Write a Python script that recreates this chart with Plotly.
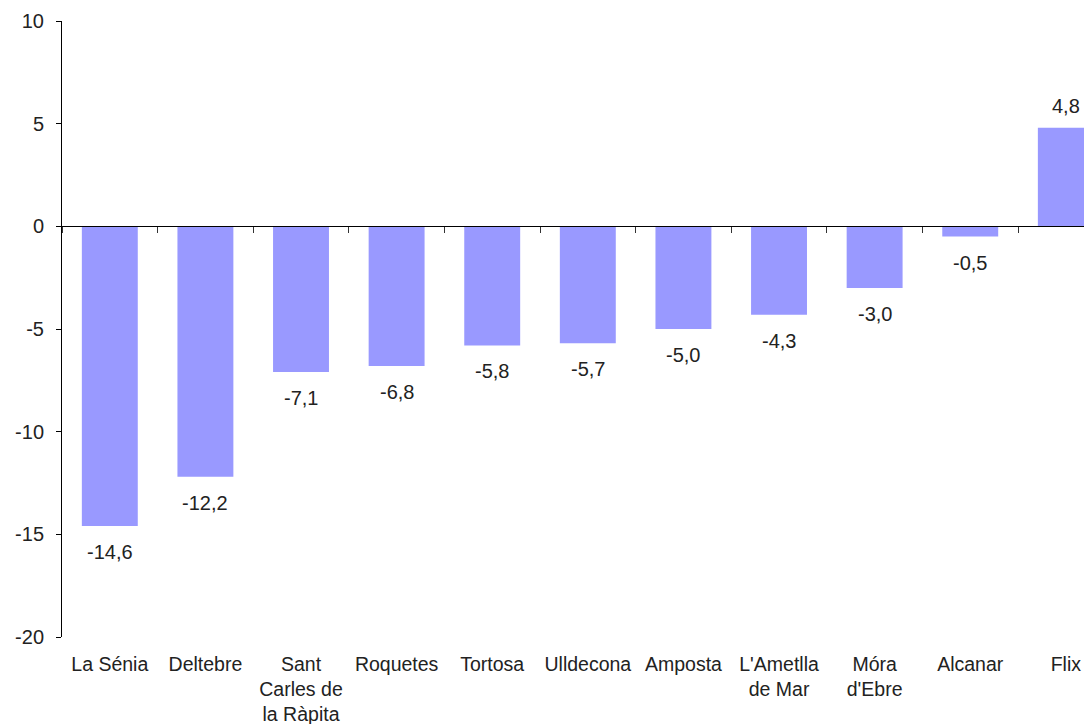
import plotly.graph_objects as go

categories = ["La Sénia", "Deltebre", "Sant<br>Carles de<br>la Ràpita", "Roquetes", "Tortosa",
              "Ulldecona", "Amposta", "L'Ametlla<br>de Mar", "Móra<br>d'Ebre", "Alcanar", "Flix"]
values = [-14.6, -12.2, -7.1, -6.8, -5.8, -5.7, -5.0, -4.3, -3.0, -0.5, 4.8]
y_ticks = [-20, -15, -10, -5, 0, 5, 10]

FONT = "Liberation Sans, Arial, sans-serif"
TXT = "#222222"
FS = 20

fig = go.Figure()
fig.add_trace(go.Bar(x=categories, y=values, marker=dict(color="#9999FF", line=dict(width=0)),
                     hoverinfo="x+y", showlegend=False))
# helper trace for the category-boundary ticks on the zero line
fig.add_trace(go.Scatter(x=categories, y=[0] * len(categories), mode="markers",
                         marker=dict(opacity=0), xaxis="x2", hoverinfo="skip", showlegend=False))

for c, v in zip(categories, values):
    fig.add_annotation(x=c, y=v, text=f"{v:.1f}".replace(".", ","), showarrow=False,
                       yanchor="middle", xanchor="center",
                       yshift=(-26 if v < 0 else 22),
                       font=dict(family=FONT, size=FS, color=TXT))

fig.update_layout(
    width=1084, height=724,
    margin=dict(l=62, r=0, t=21, b=87, autoexpand=False),
    paper_bgcolor="white", plot_bgcolor="white",
    bargap=0.415,
    font=dict(family=FONT, size=FS, color=TXT),
    xaxis=dict(type="category", range=[-0.5, 10.19], showline=False, showgrid=False,
               zeroline=False, ticks="", tickfont=dict(family=FONT, size=19.5, color=TXT),
               ticklabelstandoff=13, automargin=False),
    xaxis2=dict(type="category", matches="x", overlaying="x", anchor="free", position=2 / 3,
                showline=True, linecolor="#000000", linewidth=1, ticks="outside",
                tickson="boundaries", ticklen=6, tickcolor="#333333", tickwidth=1,
                showticklabels=False, showgrid=False, zeroline=False, side="bottom"),
    yaxis=dict(range=[-20, 10], tickvals=y_ticks, ticktext=[str(t) for t in y_ticks],
               showline=True, linecolor="#000000", linewidth=1, ticks="outside", ticklen=5,
               tickcolor="#000000", showgrid=False, zeroline=False, automargin=False,
               tickfont=dict(family=FONT, size=FS, color=TXT), ticklabelstandoff=8),
)

fig.write_html("out.html", config={"displayModeBar": False},
               post_script="document.body.style.margin='0';document.body.style.overflow='hidden';")
